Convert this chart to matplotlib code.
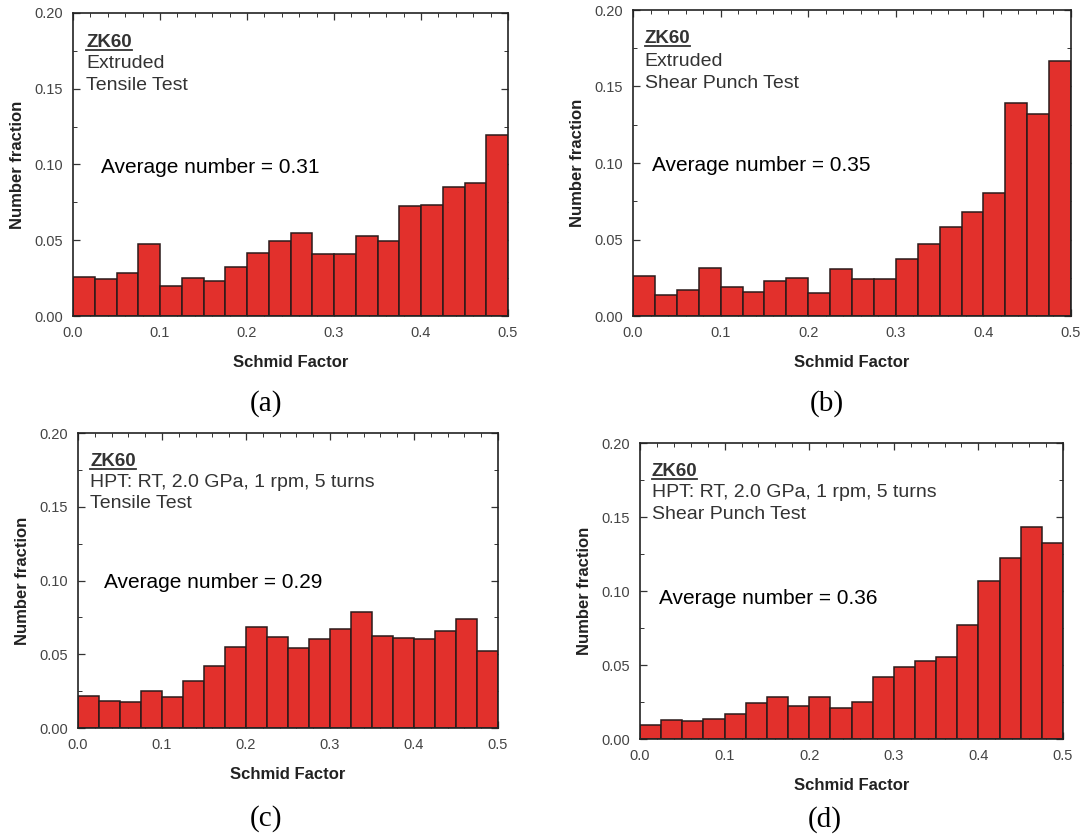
import matplotlib
matplotlib.use("Agg")
import matplotlib.pyplot as plt
from matplotlib.ticker import MultipleLocator, FormatStrFormatter
from matplotlib.lines import Line2D
import numpy as np

plt.rcParams['font.family'] = ['Liberation Sans', 'DejaVu Sans']

# Bin edges: 20 bins on Schmid factor 0 .. 0.5
bin_edges = np.linspace(0.0, 0.5, 21)

frac_a = [0.0255, 0.0246, 0.0286, 0.0477, 0.0196, 0.0248, 0.0229, 0.0325, 0.0415, 0.0497,
          0.0549, 0.0407, 0.0407, 0.0525, 0.0492, 0.0727, 0.0730, 0.0853, 0.0877, 0.1193]
frac_b = [0.0261, 0.0135, 0.0170, 0.0316, 0.0192, 0.0155, 0.0231, 0.0248, 0.0150, 0.0309,
          0.0244, 0.0240, 0.0373, 0.0468, 0.0580, 0.0680, 0.0802, 0.1390, 0.1320, 0.1669]
frac_c = [0.0217, 0.0185, 0.0174, 0.0249, 0.0210, 0.0321, 0.0423, 0.0551, 0.0687, 0.0617,
          0.0545, 0.0601, 0.0669, 0.0786, 0.0621, 0.0612, 0.0601, 0.0660, 0.0741, 0.0524]
frac_d = [0.0093, 0.0126, 0.0120, 0.0133, 0.0172, 0.0244, 0.0282, 0.0226, 0.0282, 0.0212,
          0.0248, 0.0422, 0.0488, 0.0528, 0.0555, 0.0770, 0.1068, 0.1223, 0.1433, 0.1325]

conditions = ["Extruded", "Extruded",
              "HPT: RT, 2.0 GPa, 1 rpm, 5 turns", "HPT: RT, 2.0 GPa, 1 rpm, 5 turns"]
tests = ["Tensile Test", "Shear Punch Test", "Tensile Test", "Shear Punch Test"]
averages = ["0.31", "0.35", "0.29", "0.36"]
panel_labels = ["(a)", "(b)", "(c)", "(d)"]
alloy = "ZK60"

W, H = 1084, 838
fig = plt.figure(figsize=(W / 100, H / 100), dpi=100)
fig.patch.set_facecolor('white')

# axes boxes in pixels: left, right, top, bottom
boxes = [(73, 508, 13, 316), (633, 1071, 10, 316), (78, 498, 433, 728), (640, 1063, 443, 739)]
# text positions in axes fraction: (x_head, y_zk, y_l2, y_l3, x_avg, y_avg)
text_pos = [(0.030, 0.888, 0.818, 0.746, 0.064, 0.472),
            (0.027, 0.892, 0.817, 0.745, 0.043, 0.474),
            (0.029, 0.888, 0.817, 0.746, 0.062, 0.475),
            (0.028, 0.889, 0.818, 0.743, 0.045, 0.456)]
label_pos = [(266, 404), (827, 404), (266, 819), (825, 820)]

data = [frac_a, frac_b, frac_c, frac_d]

fig.canvas.draw()
renderer = fig.canvas.get_renderer()

for i in range(4):
    l, r, t, b = boxes[i]
    ax = fig.add_axes([l / W, 1 - b / H, (r - l) / W, (b - t) / H])
    ax.bar(bin_edges[:-1], data[i], width=np.diff(bin_edges), align='edge',
           color='#e2302c', edgecolor='#2b1a1a', linewidth=1.1, zorder=2)
    ax.set_xlim(0, 0.5)
    ax.set_ylim(0, 0.20)
    ax.xaxis.set_major_locator(MultipleLocator(0.1))
    ax.xaxis.set_minor_locator(MultipleLocator(0.02))
    ax.yaxis.set_major_locator(MultipleLocator(0.05))
    ax.yaxis.set_minor_locator(MultipleLocator(0.025))
    ax.xaxis.set_major_formatter(FormatStrFormatter('%.1f'))
    ax.yaxis.set_major_formatter(FormatStrFormatter('%.2f'))
    ax.tick_params(which='both', direction='in', top=True, right=True,
                   colors='#333333', labelcolor='#444444', labelsize=10.5, pad=7)
    ax.tick_params(which='major', length=5, width=0.9)
    ax.tick_params(which='minor', length=3, width=0.7)
    for s in ax.spines.values():
        s.set_color('#222222')
        s.set_linewidth(1.2)
    ax.set_xlabel("Schmid Factor", fontsize=12, fontweight='bold', color='#222222', labelpad=11)
    ax.set_ylabel("Number fraction", fontsize=12, fontweight='bold', color='#222222', labelpad=7)

    xh, yz, y2, y3, xa, ya = text_pos[i]
    zk = ax.text(xh, yz, alloy, transform=ax.transAxes, fontsize=13.5, fontweight='bold',
                 color='#333333', va='baseline', ha='left')
    ax.text(xh, y2, conditions[i], transform=ax.transAxes, fontsize=14,
            color='#333333', va='baseline', ha='left')
    ax.text(xh, y3, tests[i], transform=ax.transAxes, fontsize=14,
            color='#333333', va='baseline', ha='left')
    ax.text(xa, ya, "Average number = " + averages[i], transform=ax.transAxes,
            fontsize=15, color='black', va='baseline', ha='left')

    # underline for alloy name
    bb = zk.get_window_extent(renderer=renderer)
    inv = ax.transAxes.inverted()
    (x0, _), (x1, _) = inv.transform([(bb.x0, 0), (bb.x1, 0)])
    ybase_px = ax.transAxes.transform((0, yz))[1] - 3
    yline = inv.transform((0, ybase_px))[1]
    ax.add_line(Line2D([x0, x1], [yline, yline], transform=ax.transAxes,
                       color='#333333', linewidth=1.3))

    px, py = label_pos[i]
    fig.text(px / W, 1 - py / H, panel_labels[i], fontsize=21,
             family=['Liberation Serif', 'DejaVu Serif'], ha='center', va='center', color='black')

fig.savefig("out.png", dpi=100, facecolor='white')
